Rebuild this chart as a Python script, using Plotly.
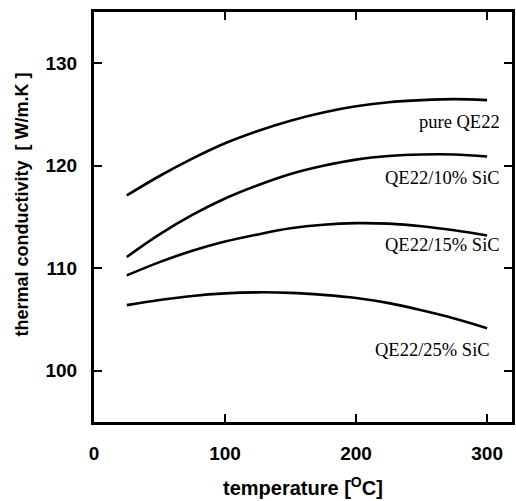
import plotly.graph_objects as go

temperature = [25, 50, 75, 100, 125, 150, 175, 200, 225, 250, 275, 300]
pure_qe22 = [117.1, 119.0, 120.7, 122.2, 123.4, 124.4, 125.2, 125.8, 126.2, 126.4, 126.5, 126.4]
qe22_10sic = [111.1, 113.3, 115.2, 116.8, 118.1, 119.2, 120.0, 120.6, 120.95, 121.1, 121.1, 120.9]
qe22_15sic = [109.3, 110.6, 111.7, 112.6, 113.3, 113.9, 114.25, 114.4, 114.35, 114.1, 113.7, 113.2]
qe22_25sic = [106.4, 106.9, 107.3, 107.55, 107.65, 107.6, 107.4, 107.1, 106.6, 105.9, 105.1, 104.15]

series_names = ["pure QE22", "QE22/10% SiC", "QE22/15% SiC", "QE22/25% SiC"]
series_values = [pure_qe22, qe22_10sic, qe22_15sic, qe22_25sic]
label_x = [311, 311, 311, 304]
label_y = [124.3, 118.8, 112.3, 102.0]

x_ticks = [0, 100, 200, 300]
y_ticks = [100, 110, 120, 130]

fig = go.Figure()
for name, vals in zip(series_names, series_values):
    fig.add_trace(go.Scatter(x=temperature, y=vals, mode="lines", name=name,
                             line=dict(color="black", width=2.6, shape="spline"),
                             showlegend=False, hoverinfo="skip"))

for name, lx, ly in zip(series_names, label_x, label_y):
    fig.add_annotation(x=lx, y=ly, xref="x", yref="y", text=name, showarrow=False,
                       xanchor="right", yanchor="middle",
                       font=dict(family="Liberation Serif", size=18.5, color="black"))

fig.add_annotation(x=(21 - 94) / 421, y=(422 - 205) / 410, xref="paper", yref="paper",
                   text="thermal conductivity  [ W/m.K ]", textangle=-90, showarrow=False,
                   xanchor="center", yanchor="middle",
                   font=dict(family="Liberation Sans", size=18, color="black", weight="bold"))
fig.add_annotation(x=(304 - 94) / 421, y=-(487 - 422) / 410, xref="paper", yref="paper",
                   text="temperature [<sup>O</sup>C]", showarrow=False,
                   xanchor="center", yanchor="middle",
                   font=dict(family="Liberation Sans", size=20, color="black", weight="bold"))

axis_common = dict(showline=True, linecolor="black", linewidth=3, mirror="ticks",
                   ticks="inside", ticklen=8, tickwidth=2, tickcolor="black",
                   showgrid=False, zeroline=False,
                   tickfont=dict(family="Liberation Sans", size=19, color="black", weight="bold"))

fig.update_xaxes(range=[0, 319], tickvals=x_ticks, ticklabelstandoff=12, **axis_common)
fig.update_yaxes(range=[95, 135], tickvals=y_ticks, ticklabelstandoff=10, **axis_common)

fig.update_layout(width=516, height=501, margin=dict(l=94, r=1, t=12, b=79),
                  plot_bgcolor="white", paper_bgcolor="white")

fig.write_html("out.html", config={"displayModeBar": False})

with open("out.html", "r", encoding="utf-8") as f:
    html = f.read()
html = html.replace("<head>", "<head><style>html,body{margin:0;padding:0;overflow:hidden;}</style>", 1)
with open("out.html", "w", encoding="utf-8") as f:
    f.write(html)
